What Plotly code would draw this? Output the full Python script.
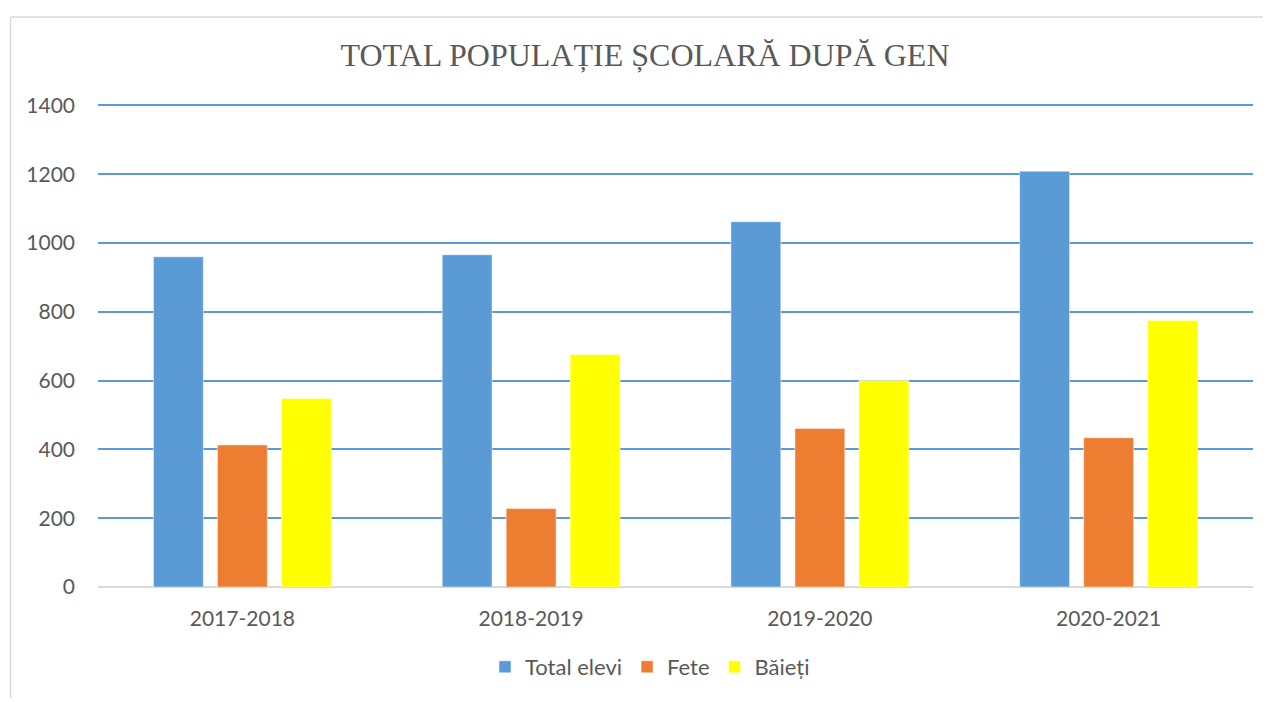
import plotly.graph_objects as go

categories = ["2017-2018", "2018-2019", "2019-2020", "2020-2021"]
total_elevi = [960, 966, 1062, 1209]
fete = [413, 228, 461, 434]
baieti = [548, 676, 600, 775]
series_names = ["Total elevi", "Fete", "Băieți"]
y_ticks = [0, 200, 400, 600, 800, 1000, 1200, 1400]

colors = ["#5B9BD5", "#ED7D31", "#FFFF00"]
OFF = 8  # page body margin
W, H = 1255, 690  # figure size
YMAX = 1410
# target plot area in page pixels
PL, PR, PB = 98, 1253, 589.5
Y1400 = 105
scale = (PB - Y1400) / 1400
PT = Y1400 - (YMAX - 1400) * scale
L, T = PL - OFF, PT - OFF
pw, ph = PR - PL, PB - PT
R = W - L - pw
B = H - T - ph

fig = go.Figure()
for name, vals, c in zip(series_names, [total_elevi, fete, baieti], colors):
    fig.add_trace(go.Bar(x=categories, y=vals, name=name,
                         marker=dict(color=c, line=dict(color="rgba(255,255,255,0.5)", width=1))))

def px(x):  # page x -> paper
    return (x - PL) / pw

def py(y):  # page y -> paper
    return (PB - y) / ph

font_main = "Lato, 'Open Sans', sans-serif"
fig.update_layout(
    width=W, height=H,
    margin=dict(l=L, r=R, t=T, b=B),
    paper_bgcolor="white", plot_bgcolor="white",
    barmode="group", bargap=0.335, bargroupgap=0.22,
    title=dict(text="TOTAL POPULAȚIE ȘCOLARĂ DUPĂ GEN", x=px(645), xanchor="center",
               xref="paper", y=1 - (55 - OFF) / H, yanchor="middle",
               font=dict(family="'Liberation Serif', 'Times New Roman', serif", size=32, color="#595959")),
    font=dict(family=font_main, size=21, color="#595959"),
    legend=dict(orientation="h", x=px(650), xanchor="center", y=py(670), yanchor="middle",
                font=dict(size=22, color="#595959"), traceorder="normal"),
    xaxis=dict(showgrid=False, showline=False, ticks="", ticklabelstandoff=17,
               tickfont=dict(size=21, color="#595959")),
    yaxis=dict(range=[0, YMAX], tickvals=y_ticks, showgrid=True, gridcolor="#5B9BD5", gridwidth=2,
               zeroline=True, zerolinecolor="#D9D9D9", zerolinewidth=2, ticks="", ticklabelstandoff=22,
               tickfont=dict(size=21, color="#595959"), showline=False),
    shapes=[
        dict(type="line", xref="paper", yref="paper", x0=px(10.5), x1=px(10.5), y0=py(16), y1=py(720),
             line=dict(color="#D9D9D9", width=1.5)),
        dict(type="line", xref="paper", yref="paper", x0=px(10.5), x1=px(1290), y0=py(16), y1=py(16),
             line=dict(color="#D9D9D9", width=1.5)),
    ],
)
fig.write_html("out.html")
